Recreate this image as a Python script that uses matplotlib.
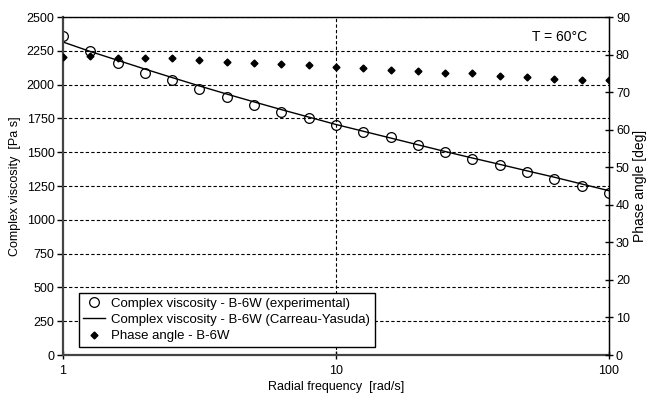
import matplotlib
matplotlib.use("Agg")
import matplotlib.pyplot as plt
import numpy as np

plt.rcParams['font.family'] = ['Liberation Sans', 'DejaVu Sans']
plt.rcParams['font.size'] = 9

# radial frequency, 10 points per decade from 1 to 100 rad/s
freq = [1.0, 1.259, 1.585, 1.995, 2.512, 3.162, 3.981, 5.012, 6.310, 7.943,
        10.0, 12.59, 15.85, 19.95, 25.12, 31.62, 39.81, 50.12, 63.10, 79.43, 100.0]

# measured complex viscosity [Pa s]
visc_exp = [2360, 2250, 2160, 2088, 2034, 1968, 1908, 1849, 1797, 1753,
            1701, 1649, 1610, 1553, 1501, 1450, 1405, 1354, 1302, 1250, 1200]

# Carreau-Yasuda fit [Pa s]
visc_cy = [2315, 2245, 2180, 2115, 2052, 1990, 1930, 1872, 1815, 1760,
           1705, 1655, 1605, 1555, 1505, 1457, 1410, 1362, 1315, 1265, 1215]

# phase angle [deg]
phase = [79.3, 79.5, 79.2, 79.0, 79.0, 78.6, 78.1, 77.8, 77.4, 77.1,
         76.6, 76.3, 75.9, 75.6, 75.2, 75.0, 74.3, 74.0, 73.6, 73.2, 73.1]

fig = plt.figure(figsize=(6.52, 4.01), dpi=100)
ax = fig.add_axes([0.0966, 0.1147, 0.8374, 0.8429])
ax2 = ax.twinx()

ax.set_xscale('log')
ax.set_xlim(1, 100)
ax.set_ylim(0, 2500)
ax.set_yticks(np.arange(0, 2501, 250))
ax.set_xticks([1, 10, 100])
ax.set_xticklabels(['1', '10', '100'])
ax.minorticks_off()
ax.grid(True, axis='y', linestyle=(0, (3, 2)), color='black', linewidth=0.8)
ax.axvline(10, linestyle=(0, (3, 2)), color='black', linewidth=0.8)

l_exp, = ax.plot(freq, visc_exp, linestyle='none', marker='o', markersize=7,
                 markerfacecolor='none', markeredgecolor='black',
                 markeredgewidth=0.9, label='Complex viscosity - B-6W (experimental)')
l_cy, = ax.plot(freq, visc_cy, color='black', linewidth=1.0,
                label='Complex viscosity - B-6W (Carreau-Yasuda)')

ax2.set_ylim(0, 90)
ax2.set_yticks(np.arange(0, 91, 10))
l_ph, = ax2.plot(freq, phase, linestyle='none', marker='D', markersize=3.5,
                 color='black', label='Phase angle - B-6W')

ax.set_xlabel('Radial frequency  [rad/s]', labelpad=3)
ax.set_ylabel('Complex viscosity  [Pa s]', labelpad=4)
ax2.set_ylabel('Phase angle [deg]', labelpad=2, fontsize=10)

for s in ['left', 'bottom']:
    ax.spines[s].set_linewidth(1.6)
    ax.spines[s].set_color('#444444')
ax.spines['top'].set_linewidth(1.0)
ax2.spines['right'].set_linewidth(1.0)
for s in ['left', 'bottom', 'top']:
    ax2.spines[s].set_visible(False)

ax.tick_params(axis='y', direction='out', length=4, width=1, pad=2)
ax.tick_params(axis='x', direction='inout', length=6, width=1, pad=4)
ax2.tick_params(axis='y', direction='inout', length=6, width=1, pad=2)

ax.text(0.96, 0.94, 'T = 60°C', transform=ax.transAxes, ha='right', va='center',
        fontsize=10)

leg = ax.legend(handles=[l_exp, l_cy, l_ph], loc='lower left',
                bbox_to_anchor=(0.029, 0.024), fancybox=False, framealpha=1,
                edgecolor='black', fontsize=9.5, handlelength=1.6,
                borderpad=0.35, labelspacing=0.3, handletextpad=0.5,
                borderaxespad=0)
leg.get_frame().set_linewidth(1.0)
leg.set_zorder(5)

fig.savefig('out.png', dpi=100)
